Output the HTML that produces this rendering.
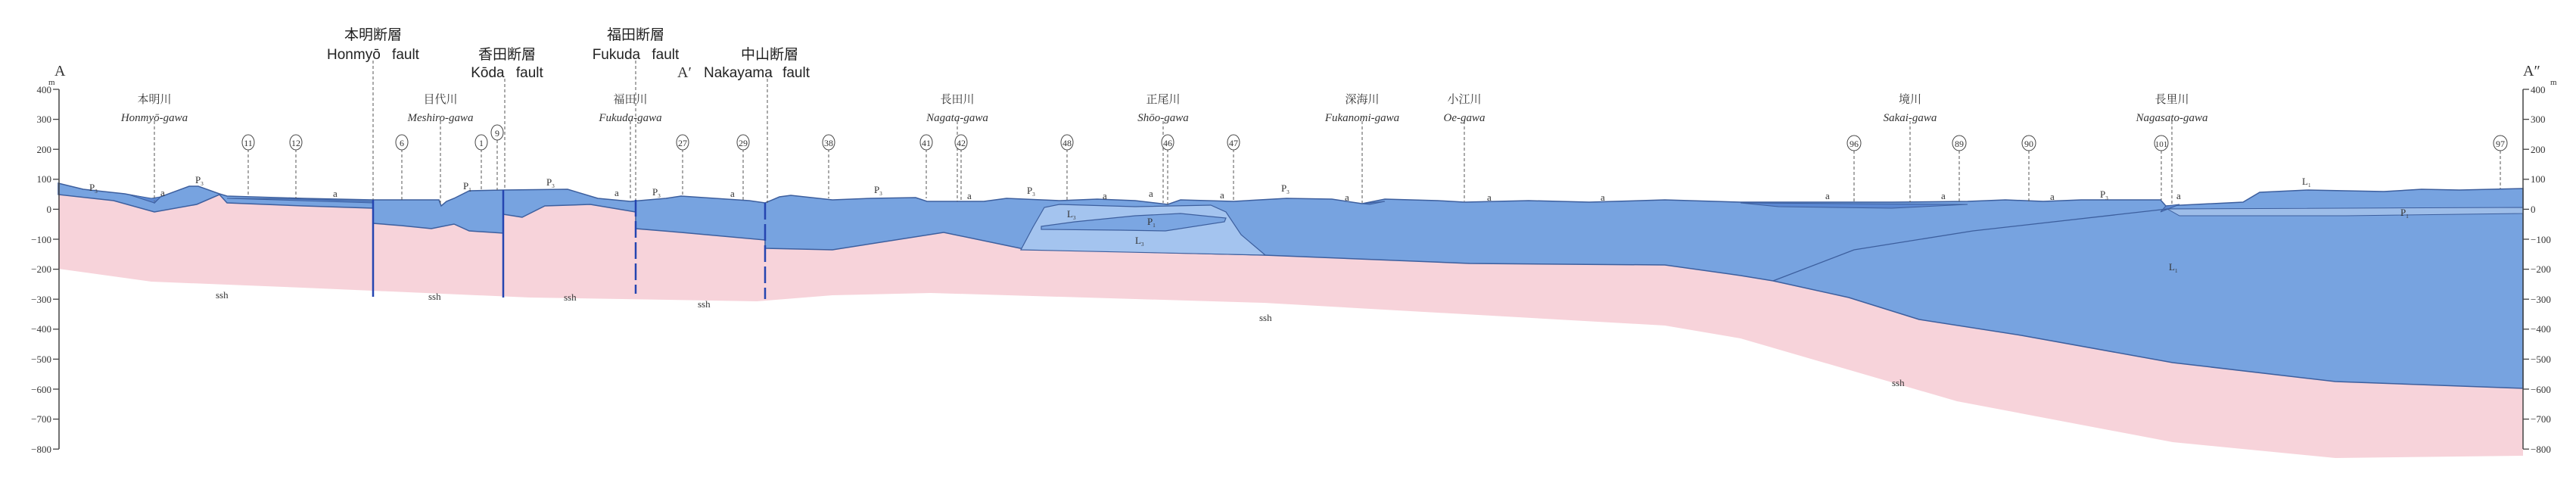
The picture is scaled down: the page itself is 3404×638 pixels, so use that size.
<!DOCTYPE html>
<html><head><meta charset="utf-8"><style>
html,body{margin:0;padding:0;background:#fff;}
svg{display:block}
.s{font-family:"Liberation Serif","Noto Serif CJK SC",serif;fill:#333}
.f{font-family:"Liberation Sans","Noto Sans CJK JP",sans-serif;fill:#222}
.it{font-style:italic}
</style></head><body>
<svg width="3404" height="638" viewBox="0 0 3404 638" xmlns="http://www.w3.org/2000/svg">
<!-- pink basement -->
<path fill="#f7d3da" d="M77,257 L150,265 L204,280 L260,270 L290,257 L300,268 L400,272 L493,275 L493,295 L530,298 L570,302 L600,296 L620,305 L665,308 L665,283 L690,287 L720,272 L780,270 L840,280 L840,302 L900,307 L1011,317 L1011,328 L1100,330 L1247,307 L1353,329 L1670,337 L1942,348 L2200,350 L2300,364 L2343,371 L2443,393 L2536,422 L2671,443 L2871,479 L3086,504 L3334,513 L3334,602 L3086,605 L2871,584 L2586,530 L2300,447 L2200,430 L1670,400 L1230,387 L1100,390 L1000,398 L700,393 L400,380 L200,372 L77,355 Z"/>
<!-- blue cover -->
<path fill="#77a3e0" stroke="#3d5f9e" stroke-width="1.5" d="M77,242 L110,250 L165,256 L196,262 L204,268 L212,260 L250,246 L262,246 L290,256 L300,259 L400,262 L493,264 L580,264 L583,272 L590,266 L600,262 L620,252 L665,251 L750,250 L790,262 L833,266 L880,262 L900,259 L990,265 L1011,268 L1030,260 L1045,258 L1100,264 L1150,262 L1210,261 L1225,266 L1300,266 L1330,262 L1400,265 L1450,263 L1500,265 L1543,270 L1560,264 L1630,266 L1700,262 L1760,263 L1800,269 L1830,263 L1900,265 L1935,267 L2020,265 L2100,267 L2200,264 L2300,267 L2500,267 L2600,266 L2650,264 L2700,266 L2750,264 L2855,264 L2862,272 L2964,267 L2986,254 L3050,251 L3150,253 L3200,250 L3250,251 L3334,249 L3334,513 L3086,504 L2871,479 L2671,443 L2536,422 L2443,393 L2343,371 L2300,364 L2200,350 L1942,348 L1670,337 L1353,329 L1247,307 L1100,330 L1011,328 L1011,317 L900,307 L840,302 L840,280 L780,270 L720,272 L690,287 L665,283 L665,308 L620,305 L600,296 L570,302 L530,298 L493,295 L493,275 L400,272 L300,268 L290,257 L260,270 L204,280 L150,265 L77,257 Z"/>
<!-- L3 lens -->
<path fill="#a4c4ef" stroke="#3d5f9e" stroke-width="1.2" d="M1349,330 L1365,300 L1380,274 L1400,270 L1500,273 L1600,271 L1620,280 L1640,310 L1672,337 Z"/>
<path fill="#7ba6e2" stroke="#3d5f9e" stroke-width="1.2" d="M1376,299 L1420,293 L1500,285 L1560,282 L1620,288 L1618,293 L1540,305 L1480,304 L1376,303 Z"/>
<!-- alluvium a -->
<g fill="#5c88d2" stroke="#3d5f9e" stroke-width="1">
<path d="M170,257 L204,268 L212,260 L200,262 Z"/>
<path d="M300,262 L493,268 L493,266 L400,263 Z"/>
<path d="M1810,270 L1830,266 L1800,269 Z"/>
<path d="M2300,268 L2600,270 L2500,275 L2350,273 Z"/>
<path d="M2862,272 L2880,270 L2855,280 Z"/>
</g>
<!-- right internal lines -->
<path fill="none" stroke="#3d5f9e" stroke-width="1.3" d="M2343,371 L2450,330 L2607,305 L2864,276 L3334,276"/>
<path fill="#9dbde9" stroke="#3d5f9e" stroke-width="1" d="M2864,276 L3334,274 L3334,282 L3100,285 L2880,285 Z"/>
<!-- faults -->
<g stroke="#2545b0" stroke-width="2.5">
<line x1="493" y1="264" x2="493" y2="392"/>
<line x1="665" y1="251" x2="665" y2="393"/>
<line x1="840" y1="264" x2="840" y2="388" stroke-dasharray="22,6"/>
<line x1="1011" y1="268" x2="1011" y2="395" stroke-dasharray="22,6"/>
</g>
<!-- dashed leaders -->
<g stroke="#555" stroke-width="1" stroke-dasharray="4,3">
<line x1="493" y1="80" x2="493" y2="264"/><line x1="667" y1="104" x2="667" y2="251"/>
<line x1="840" y1="80" x2="840" y2="264"/><line x1="1014" y1="104" x2="1014" y2="268"/>
<line x1="204" y1="160" x2="204" y2="266"/><line x1="582" y1="160" x2="582" y2="270"/>
<line x1="833" y1="160" x2="833" y2="264"/><line x1="1265" y1="160" x2="1265" y2="266"/>
<line x1="1537" y1="160" x2="1537" y2="268"/><line x1="1800" y1="160" x2="1800" y2="268"/>
<line x1="1935" y1="160" x2="1935" y2="266"/><line x1="2524" y1="160" x2="2524" y2="267"/>
<line x1="2870" y1="160" x2="2870" y2="270"/>
<line x1="328" y1="197" x2="328" y2="260"/><line x1="391" y1="197" x2="391" y2="262"/>
<line x1="531" y1="197" x2="531" y2="264"/><line x1="636" y1="197" x2="636" y2="252"/>
<line x1="657" y1="185" x2="657" y2="251"/><line x1="902" y1="197" x2="902" y2="260"/>
<line x1="982" y1="197" x2="982" y2="264"/><line x1="1095" y1="197" x2="1095" y2="262"/>
<line x1="1224" y1="197" x2="1224" y2="262"/><line x1="1270" y1="197" x2="1270" y2="266"/>
<line x1="1410" y1="197" x2="1410" y2="265"/><line x1="1543" y1="197" x2="1543" y2="270"/>
<line x1="1630" y1="197" x2="1630" y2="266"/><line x1="2450" y1="199" x2="2450" y2="267"/>
<line x1="2589" y1="199" x2="2589" y2="267"/><line x1="2681" y1="199" x2="2681" y2="266"/>
<line x1="2856" y1="199" x2="2856" y2="264"/><line x1="3304" y1="199" x2="3304" y2="249"/>
</g>
<!-- circled numbers -->
<g fill="#fff" stroke="#444" stroke-width="1">
<ellipse cx="328" cy="188" rx="8" ry="10"/><ellipse cx="391" cy="188" rx="8" ry="10"/>
<ellipse cx="531" cy="188" rx="8" ry="10"/><ellipse cx="636" cy="188" rx="8" ry="10"/>
<ellipse cx="657" cy="175" rx="8" ry="10"/><ellipse cx="902" cy="188" rx="8" ry="10"/>
<ellipse cx="982" cy="188" rx="8" ry="10"/><ellipse cx="1095" cy="188" rx="8" ry="10"/>
<ellipse cx="1224" cy="188" rx="8" ry="10"/><ellipse cx="1270" cy="188" rx="8" ry="10"/>
<ellipse cx="1410" cy="188" rx="8" ry="10"/><ellipse cx="1543" cy="188" rx="8" ry="10"/>
<ellipse cx="1630" cy="188" rx="8" ry="10"/><ellipse cx="2450" cy="189" rx="9" ry="10"/>
<ellipse cx="2589" cy="189" rx="9" ry="10"/><ellipse cx="2681" cy="189" rx="9" ry="10"/>
<ellipse cx="2856" cy="189" rx="9" ry="10"/><ellipse cx="3304" cy="189" rx="9" ry="10"/>
</g>
<g class="s" font-size="12" text-anchor="middle">
<text x="328" y="193">11</text><text x="391" y="193">12</text><text x="531" y="193">6</text>
<text x="636" y="193">1</text><text x="657" y="180">9</text><text x="902" y="193">27</text>
<text x="982" y="193">29</text><text x="1095" y="193">38</text><text x="1224" y="193">41</text>
<text x="1270" y="193">42</text><text x="1410" y="193">48</text><text x="1543" y="193">46</text>
<text x="1630" y="193">47</text><text x="2450" y="194">96</text><text x="2589" y="194">89</text>
<text x="2681" y="194">90</text><text x="2856" y="194" font-size="11">101</text><text x="3304" y="194">97</text>
</g>
<!-- axes -->
<g stroke="#444" stroke-width="1.5" fill="none">
<line x1="78" y1="118" x2="78" y2="593"/><line x1="3334" y1="118" x2="3334" y2="593"/>
</g>
<g stroke="#444" stroke-width="1.3">
<line x1="70" y1="118" x2="78" y2="118"/><line x1="70" y1="157.6" x2="78" y2="157.6"/><line x1="70" y1="197.2" x2="78" y2="197.2"/><line x1="70" y1="236.8" x2="78" y2="236.8"/><line x1="70" y1="276.4" x2="78" y2="276.4"/><line x1="70" y1="316" x2="78" y2="316"/><line x1="70" y1="355.6" x2="78" y2="355.6"/><line x1="70" y1="395.2" x2="78" y2="395.2"/><line x1="70" y1="434.8" x2="78" y2="434.8"/><line x1="70" y1="474.4" x2="78" y2="474.4"/><line x1="70" y1="514" x2="78" y2="514"/><line x1="70" y1="553.6" x2="78" y2="553.6"/><line x1="70" y1="593.2" x2="78" y2="593.2"/>
<line x1="3334" y1="118" x2="3342" y2="118"/><line x1="3334" y1="157.6" x2="3342" y2="157.6"/><line x1="3334" y1="197.2" x2="3342" y2="197.2"/><line x1="3334" y1="236.8" x2="3342" y2="236.8"/><line x1="3334" y1="276.4" x2="3342" y2="276.4"/><line x1="3334" y1="316" x2="3342" y2="316"/><line x1="3334" y1="355.6" x2="3342" y2="355.6"/><line x1="3334" y1="395.2" x2="3342" y2="395.2"/><line x1="3334" y1="434.8" x2="3342" y2="434.8"/><line x1="3334" y1="474.4" x2="3342" y2="474.4"/><line x1="3334" y1="514" x2="3342" y2="514"/><line x1="3334" y1="553.6" x2="3342" y2="553.6"/><line x1="3334" y1="593.2" x2="3342" y2="593.2"/>
</g>
<g class="s" font-size="13" text-anchor="end">
<text x="68" y="123">400</text><text x="68" y="162">300</text><text x="68" y="202">200</text><text x="68" y="241">100</text><text x="68" y="281">0</text><text x="68" y="321">−100</text><text x="68" y="360">−200</text><text x="68" y="400">−300</text><text x="68" y="439">−400</text><text x="68" y="479">−500</text><text x="68" y="519">−600</text><text x="68" y="558">−700</text><text x="68" y="598">−800</text>
</g>
<g class="s" font-size="13">
<text x="3344" y="123">400</text><text x="3344" y="162">300</text><text x="3344" y="202">200</text><text x="3344" y="241">100</text><text x="3344" y="281">0</text><text x="3344" y="321">−100</text><text x="3344" y="360">−200</text><text x="3344" y="400">−300</text><text x="3344" y="439">−400</text><text x="3344" y="479">−500</text><text x="3344" y="519">−600</text><text x="3344" y="558">−700</text><text x="3344" y="598">−800</text>
<text x="64" y="112" font-size="11">m</text><text x="3370" y="112" font-size="11">m</text>
<text x="72" y="100" font-size="20">A</text><text x="3334" y="100" font-size="20">A″</text>
</g>
<!-- fault titles -->
<g class="f" font-size="19" text-anchor="middle">
<text x="493" y="52">本明断層</text><text x="493" y="78" word-spacing="10">Honmyō fault</text>
<text x="670" y="78">香田断層</text><text x="670" y="102" word-spacing="10">Kōda fault</text>
<text x="840" y="52">福田断層</text><text x="840" y="78" word-spacing="10">Fukuda fault</text>
<text x="1017" y="78">中山断層</text><text x="1000" y="102" word-spacing="8">Nakayama fault</text>
</g>
<text class="s" x="895" y="102" font-size="20">A′</text>
<!-- river names -->
<g class="s" font-size="15" text-anchor="middle">
<text x="204" y="136">本明川</text><text x="582" y="136">目代川</text><text x="833" y="136">福田川</text>
<text x="1265" y="136">長田川</text><text x="1537" y="136">正尾川</text><text x="1800" y="136">深海川</text>
<text x="1935" y="136">小江川</text><text x="2524" y="136">境川</text><text x="2870" y="136">長里川</text>
</g>
<g class="s it" font-size="15" text-anchor="middle">
<text x="204" y="160">Honmyō-gawa</text><text x="582" y="160">Meshiro-gawa</text><text x="833" y="160">Fukuda-gawa</text>
<text x="1265" y="160">Nagata-gawa</text><text x="1537" y="160">Shōo-gawa</text><text x="1800" y="160">Fukanomi-gawa</text>
<text x="1935" y="160">Oe-gawa</text><text x="2524" y="160">Sakai-gawa</text><text x="2870" y="160">Nagasato-gawa</text>
</g>
<!-- unit labels -->
<g class="s" font-size="13" fill="#222">
<text x="118" y="252">P<tspan font-size="7" dy="3">3</tspan></text>
<text x="258" y="242">P<tspan font-size="7" dy="3">3</tspan></text>
<text x="212" y="259">a</text><text x="440" y="260">a</text>
<text x="612" y="250">P<tspan font-size="7" dy="3">1</tspan></text>
<text x="722" y="245">P<tspan font-size="7" dy="3">3</tspan></text>
<text x="812" y="259">a</text><text x="862" y="258">P<tspan font-size="7" dy="3">3</tspan></text>
<text x="965" y="260">a</text>
<text x="1155" y="255">P<tspan font-size="7" dy="3">3</tspan></text>
<text x="1278" y="263">a</text><text x="1357" y="256">P<tspan font-size="7" dy="3">3</tspan></text>
<text x="1457" y="263">a</text><text x="1518" y="260">a</text><text x="1612" y="262">a</text>
<text x="1693" y="253">P<tspan font-size="7" dy="3">3</tspan></text>
<text x="1777" y="265">a</text><text x="1965" y="265">a</text><text x="2115" y="265">a</text>
<text x="1410" y="287">L<tspan font-size="7" dy="3">3</tspan></text>
<text x="1516" y="297">P<tspan font-size="7" dy="3">1</tspan></text>
<text x="1500" y="322">L<tspan font-size="7" dy="3">3</tspan></text>
<text x="2412" y="263">a</text><text x="2565" y="263">a</text><text x="2709" y="264">a</text>
<text x="2775" y="261">P<tspan font-size="7" dy="3">3</tspan></text><text x="2876" y="263">a</text>
<text x="3042" y="244">L<tspan font-size="7" dy="3">1</tspan></text>
<text x="3172" y="285">P<tspan font-size="7" dy="3">1</tspan></text>
<text x="2866" y="357">L<tspan font-size="7" dy="3">1</tspan></text>
<text x="285" y="394">ssh</text><text x="566" y="396">ssh</text><text x="745" y="397">ssh</text>
<text x="922" y="406">ssh</text><text x="1664" y="424">ssh</text><text x="2500" y="510">ssh</text>
</g>
</svg>
</body></html>
